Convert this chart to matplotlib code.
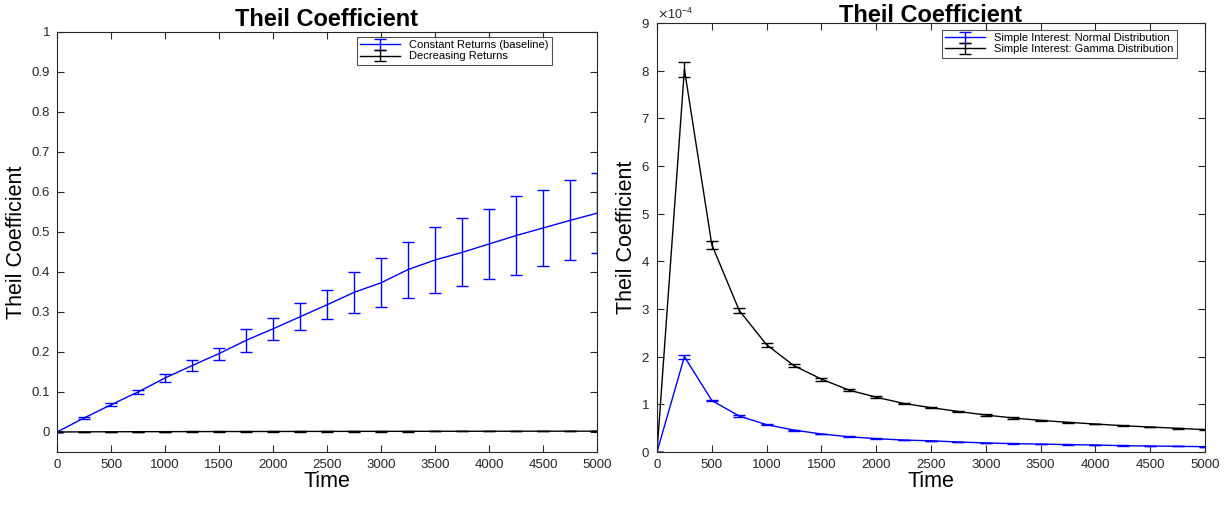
import numpy as np
import matplotlib
matplotlib.use("Agg")
import matplotlib.pyplot as plt

plt.rcParams['font.family'] = ['Liberation Sans', 'DejaVu Sans']

## Data
time = np.arange(0, 5001, 250)

# left panel: returns
const_mean = np.array([0, 0.035, 0.068, 0.100, 0.135, 0.166, 0.196, 0.229, 0.258, 0.288,
                       0.318, 0.349, 0.373, 0.406, 0.430, 0.449, 0.470, 0.491, 0.510,
                       0.529, 0.547])
const_err = np.array([0, 0.002, 0.004, 0.006, 0.011, 0.014, 0.015, 0.028, 0.028, 0.034,
                      0.036, 0.052, 0.061, 0.070, 0.083, 0.085, 0.088, 0.098, 0.094,
                      0.100, 0.100])
decr_mean = np.array([0, 0.0004, 0.0006, 0.0008, 0.0009, 0.0010, 0.0011, 0.0012, 0.0013,
                      0.0014, 0.0015, 0.0016, 0.0016, 0.0017, 0.0018, 0.0018, 0.0019,
                      0.0019, 0.0020, 0.0020, 0.0021])
decr_err = np.array([0, 0.0002, 0.0002, 0.0003, 0.0003, 0.0003, 0.0003, 0.0004, 0.0004,
                     0.0004, 0.0004, 0.0004, 0.0005, 0.0005, 0.0005, 0.0005, 0.0005,
                     0.0005, 0.0005, 0.0005, 0.0005])

# right panel: simple interest (x 1e-4)
normal_mean = np.array([0, 2.00, 1.08, 0.755, 0.573, 0.46, 0.378, 0.32, 0.28, 0.25, 0.235,
                        0.21, 0.19, 0.175, 0.166, 0.154, 0.147, 0.133, 0.126, 0.119,
                        0.112]) * 1e-4
normal_err = np.array([0, 0.04, 0.02, 0.015, 0.012, 0.01, 0.009, 0.008, 0.007, 0.006,
                       0.006, 0.005, 0.005, 0.005, 0.004, 0.004, 0.004, 0.004, 0.004,
                       0.003, 0.003]) * 1e-4
gamma_mean = np.array([0, 8.03, 4.35, 2.97, 2.25, 1.81, 1.53, 1.30, 1.15, 1.02, 0.93,
                       0.85, 0.776, 0.713, 0.664, 0.622, 0.587, 0.552, 0.524, 0.497,
                       0.469]) * 1e-4
gamma_err = np.array([0, 0.16, 0.085, 0.05, 0.04, 0.035, 0.03, 0.025, 0.02, 0.016, 0.014,
                      0.013, 0.012, 0.011, 0.01, 0.01, 0.009, 0.009, 0.008, 0.008,
                      0.008]) * 1e-4

W, H = 1225, 505
fig = plt.figure(figsize=(W / 100, H / 100), dpi=100)
ax1 = fig.add_axes([57 / W, 1 - 452 / H, 540 / W, 420 / H])
ax2 = fig.add_axes([657 / W, 1 - 452 / H, 548 / W, 429 / H])

eb = dict(linewidth=1, elinewidth=1, capsize=4, capthick=1)

ax1.errorbar(time, const_mean, yerr=const_err, color='#0000ff',
             label='Constant Returns (baseline)', **eb)
ax1.errorbar(time, decr_mean, yerr=decr_err, color='black',
             label='Decreasing Returns', **eb)
ax1.set_xlim(0, 5000)
ax1.set_ylim(-0.05, 1)
ax1.set_yticks(np.arange(0, 1.01, 0.1))
ax1.set_yticklabels(['0', '0.1', '0.2', '0.3', '0.4', '0.5', '0.6', '0.7', '0.8', '0.9', '1'])

ax2.errorbar(time, normal_mean, yerr=normal_err, color='#0000ff',
             label='Simple Interest: Normal Distribution', **eb)
ax2.errorbar(time, gamma_mean, yerr=gamma_err, color='black',
             label='Simple Interest: Gamma Distribution', **eb)
ax2.set_xlim(0, 5000)
ax2.set_ylim(0, 9e-4)
ax2.set_yticks(np.arange(0, 9.01, 1) * 1e-4)
ax2.ticklabel_format(axis='y', style='sci', scilimits=(0, 0), useMathText=True)
ax2.yaxis.get_offset_text().set_fontsize(9)

for ax, pad, anchor in ((ax1, 4, (0.917, 0.988)), (ax2, 1, (0.949, 0.984))):
    ax.set_xticks(np.arange(0, 5001, 500))
    ax.tick_params(direction='in', top=True, right=True, labelsize=9.5,
                   length=5, width=0.8, colors='#262626', pad=5)
    for s in ax.spines.values():
        s.set_linewidth(0.8)
        s.set_color('#262626')
    ax.set_xlabel('Time', fontsize=15.5, labelpad=0)
    ax.set_ylabel('Theil Coefficient', fontsize=15.5, labelpad=3)
    ax.set_title('Theil Coefficient', fontsize=17, fontweight='bold', pad=pad)
    leg = ax.legend(loc='upper right', bbox_to_anchor=anchor, fontsize=8, frameon=True,
                    fancybox=False, borderpad=0.3, handlelength=3.6, labelspacing=0.1,
                    borderaxespad=0)
    leg.get_frame().set_edgecolor('#262626')
    leg.get_frame().set_linewidth(0.8)

fig.savefig('out.png', dpi=100)
